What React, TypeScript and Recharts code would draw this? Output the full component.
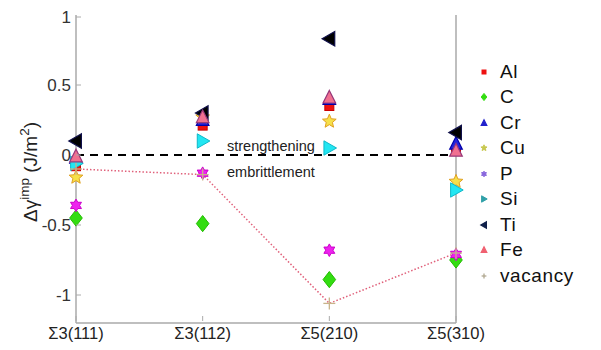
import React from 'react';
import { ComposedChart, Scatter, Line, XAxis, YAxis, ReferenceLine, ReferenceDot, Legend } from 'recharts';

const categories = ['Σ3(111)', 'Σ3(112)', 'Σ5(210)', 'Σ5(310)'];
const positions = [1, 2, 3, 4];
const yTicks = [-1, -0.5, 0, 0.5, 1];

const Al = [-0.08, 0.21, 0.35, 0.03];
const C = [-0.45, -0.49, -0.89, -0.75];
const Cr = [-0.02, 0.25, 0.40, 0.08];
const Cu = [-0.16, 0.27, 0.24, -0.19];
const P = [-0.36, -0.13, -0.68, -0.71];
const Si = [-0.06, 0.10, 0.05, -0.25];
const Ti = [0.10, 0.30, 0.83, 0.16];
const Fe = [-0.01, 0.27, 0.41, 0.03];
const vacancy = [-0.10, -0.14, -1.06, -0.70];

const FONT = '"Liberation Sans", Arial, Helvetica, sans-serif';

type MarkerKind = 'square' | 'diamond' | 'up' | 'star5' | 'star6' | 'right' | 'left' | 'plus';

const starPoints = (cx: number, cy: number, n: number, ro: number, ri: number) => {
  const pts: string[] = [];
  for (let k = 0; k < 2 * n; k++) {
    const r = k % 2 === 0 ? ro : ri;
    const a = -Math.PI / 2 + (k * Math.PI) / n;
    pts.push(`${cx + r * Math.cos(a)},${cy + r * Math.sin(a)}`);
  }
  return pts.join(' ');
};

const Marker = ({ kind, cx, cy, fill, stroke, s = 1 }: { kind: MarkerKind; cx: number; cy: number; fill: string; stroke: string; s?: number }) => {
  if (cx == null || cy == null) return null;
  switch (kind) {
    case 'square':
      return <rect x={cx - 5 * s} y={cy - 5 * s} width={10 * s} height={10 * s} fill={fill} stroke={stroke} strokeWidth={1} />;
    case 'diamond':
      return <polygon points={`${cx},${cy - 9 * s} ${cx + 7 * s},${cy} ${cx},${cy + 9 * s} ${cx - 7 * s},${cy}`} fill={fill} stroke={stroke} strokeWidth={1} />;
    case 'up':
      return <polygon points={`${cx},${cy - 8 * s} ${cx + 7 * s},${cy + 6 * s} ${cx - 7 * s},${cy + 6 * s}`} fill={fill} stroke={stroke} strokeWidth={1.2} />;
    case 'right':
      return <polygon points={`${cx + 8 * s},${cy} ${cx - 6 * s},${cy - 8 * s} ${cx - 6 * s},${cy + 8 * s}`} fill={fill} stroke={stroke} strokeWidth={1} />;
    case 'left':
      return <polygon points={`${cx - 8 * s},${cy} ${cx + 6 * s},${cy - 8 * s} ${cx + 6 * s},${cy + 8 * s}`} fill={fill} stroke={stroke} strokeWidth={1.2} />;
    case 'star5':
      return <polygon points={starPoints(cx, cy, 5, 8 * s, 3.6 * s)} fill={fill} stroke={stroke} strokeWidth={1} />;
    case 'star6':
      return <polygon points={starPoints(cx, cy, 6, 7 * s, 4 * s)} fill={fill} stroke={stroke} strokeWidth={1} />;
    case 'plus':
      return (
        <g stroke={stroke} strokeWidth={1.3}>
          <line x1={cx - 6 * s} y1={cy} x2={cx + 6 * s} y2={cy} />
          <line x1={cx} y1={cy - 6 * s} x2={cx} y2={cy + 6 * s} />
        </g>
      );
    default:
      return null;
  }
};

const series: { name: string; values: number[]; kind: MarkerKind; fill: string; stroke: string; legend: string }[] = [
  { name: 'Al', values: Al, kind: 'square', fill: '#ee1111', stroke: '#cc0000', legend: '#ee1111' },
  { name: 'C', values: C, kind: 'diamond', fill: '#33dd11', stroke: '#22bb00', legend: '#33dd11' },
  { name: 'Cr', values: Cr, kind: 'up', fill: '#2222dd', stroke: '#0000aa', legend: '#2222cc' },
  { name: 'Cu', values: Cu, kind: 'star5', fill: '#f6e04a', stroke: '#e0a020', legend: '#c8c850' },
  { name: 'P', values: P, kind: 'star6', fill: '#ee22ee', stroke: '#cc00cc', legend: '#8866dd' },
  { name: 'Si', values: Si, kind: 'right', fill: '#22e6f2', stroke: '#10b8c8', legend: '#30a0a8' },
  { name: 'Ti', values: Ti, kind: 'left', fill: '#000000', stroke: '#10104a', legend: '#10204a' },
  { name: 'Fe', values: Fe, kind: 'up', fill: '#f07090', stroke: '#9a3a7a', legend: '#f06070' },
];

const vacancyStyle = { kind: 'plus' as MarkerKind, stroke: '#c8b48a', legend: '#b0a890' };

const toPoints = (values: number[]) => positions.map((x, i) => ({ x, y: values[i] }));

const YTick = (props: any) => {
  const { x, y, payload } = props;
  return (
    <g>
      <text x={x} y={y} textAnchor="end" dominantBaseline="central" fontFamily={FONT} fontSize={17} fill="#333">
        {payload.value}
      </text>
      <line x1={x + 5} y1={y} x2={x + 10} y2={y} stroke="#aaa" strokeWidth={1} />
    </g>
  );
};

const XTick = (props: any) => {
  const { x, y, payload } = props;
  return (
    <g>
      <text x={x} y={y + 10} textAnchor="middle" dominantBaseline="central" fontFamily={FONT} fontSize={16.5} fill="#222">
        {categories[payload.value - 1]}
      </text>
      <line x1={x} y1={y - 7} x2={x} y2={y - 2} stroke="#aaa" strokeWidth={1} />
    </g>
  );
};

const YLabel = () => {
  const x = 29;
  const y = 164;
  return (
    <text x={x} y={y} textAnchor="middle" transform={`rotate(-90, ${x}, ${y})`} fontFamily={FONT} fontSize={19} fill="#222">
      <tspan>Δγ</tspan>
      <tspan dy={-8} fontSize={13.5}>imp</tspan>
      <tspan dy={8}> (J/m</tspan>
      <tspan dy={-8} fontSize={13.5}>2</tspan>
      <tspan dy={8}>)</tspan>
    </text>
  );
};

const LegendContent = () => (
  <div style={{ fontFamily: FONT, fontSize: 19, color: '#111', letterSpacing: 0.6 }}>
    {[...series.map((s) => ({ name: s.name, kind: s.kind, color: s.legend })), { name: 'vacancy', kind: vacancyStyle.kind, color: vacancyStyle.legend }].map((it) => (
      <div key={it.name} style={{ height: 25.5, display: 'flex', alignItems: 'center' }}>
        <svg width={12} height={12} style={{ display: 'block' }}>
          <Marker kind={it.kind} cx={6} cy={6} fill={it.color} stroke={it.color} s={0.4} />
        </svg>
        <span style={{ marginLeft: 10 }}>{it.name}</span>
      </div>
    ))}
  </div>
);

const AnnotationLabel = (text: string) => (props: any) => {
  const { viewBox } = props;
  return (
    <text x={viewBox.x} y={viewBox.y + viewBox.height / 2} dominantBaseline="central" fontFamily={FONT} fontSize={14.5} fill="#222">
      {text}
    </text>
  );
};

export default function App() {
  return (
    <ComposedChart width={593} height={342} margin={{ top: 7, right: 25, left: 0, bottom: 0 }}>
      <XAxis
        type="number"
        dataKey="x"
        domain={[1, 4]}
        ticks={positions}
        tick={<XTick />}
        tickLine={false}
        tickSize={0}
        tickMargin={0}
        height={27}
        axisLine={{ stroke: '#aaa', strokeWidth: 1.5 }}
        allowDuplicatedCategory={false}
      />
      <YAxis
        type="number"
        domain={[-1.2, 1]}
        ticks={yTicks}
        tick={<YTick />}
        tickLine={false}
        tickSize={0}
        tickMargin={5}
        width={68}
        axisLine={{ stroke: '#aaa', strokeWidth: 1.5 }}
        label={<YLabel />}
      />
      <ReferenceLine x={4} stroke="#aaa" strokeWidth={1.5} />
      <ReferenceLine y={0} stroke="#000" strokeWidth={2.2} strokeDasharray="8 6" />
      <ReferenceDot x={2.2} y={0.065} r={1} fill="none" stroke="none" label={AnnotationLabel('strengthening')} />
      <ReferenceDot x={2.2} y={-0.12} r={1} fill="none" stroke="none" label={AnnotationLabel('embrittlement')} />
      <Line
        data={toPoints(vacancy)}
        dataKey="y"
        name="vacancy"
        stroke="#e0607a"
        strokeWidth={1.5}
        strokeDasharray="1.5 2"
        isAnimationActive={false}
        dot={(p: any) => <Marker key={`v${p.index}`} kind="plus" cx={p.cx} cy={p.cy} fill="none" stroke={vacancyStyle.stroke} />}
        activeDot={false}
      />
      {series.map((s) => (
        <Scatter
          key={s.name}
          name={s.name}
          data={toPoints(s.values)}
          dataKey="y"
          isAnimationActive={false}
          shape={(p: any) => <Marker kind={s.kind} cx={p.cx} cy={p.cy} fill={s.fill} stroke={s.stroke} s={0.9} />}
        />
      ))}
      <Legend
        layout="vertical"
        align="right"
        verticalAlign="top"
        wrapperStyle={{ left: 470, top: 51, width: 120 }}
        content={<LegendContent />}
      />
    </ComposedChart>
  );
}
